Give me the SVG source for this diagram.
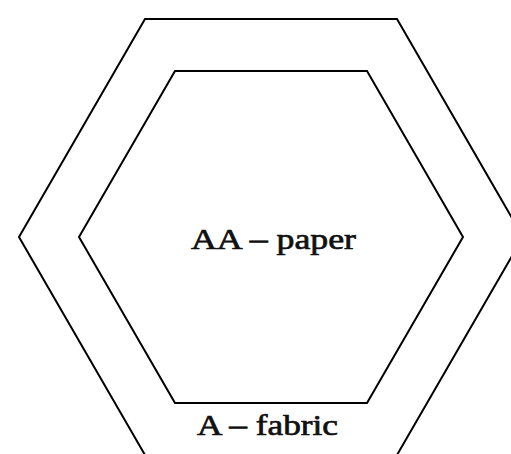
<svg xmlns="http://www.w3.org/2000/svg" width="511" height="454" viewBox="0 0 511 454">
<style>
.hex{fill:none;stroke:#000;stroke-width:2;stroke-linejoin:miter}
.lbl{font-family:"Liberation Serif","Times New Roman",serif;font-weight:normal;font-size:30px;fill:#111;stroke:#111;stroke-width:0.7;text-anchor:middle}
</style>
<rect width="511" height="454" fill="#fff"/>
<g id="outer-hexagon">
<polygon class="hex" points="145,19 397,19 523,237 397,455 145,455 19,237"/>
<text class="lbl" x="267.5" y="435" textLength="141" lengthAdjust="spacingAndGlyphs">A – fabric</text>
</g>
<g id="inner-hexagon">
<polygon class="hex" points="175,71 367,71 463,237 367,403 175,403 79,237"/>
<text class="lbl" x="273.5" y="249" textLength="165" lengthAdjust="spacingAndGlyphs">AA – paper</text>
</g>
<g id="connectors"/>
</svg>
